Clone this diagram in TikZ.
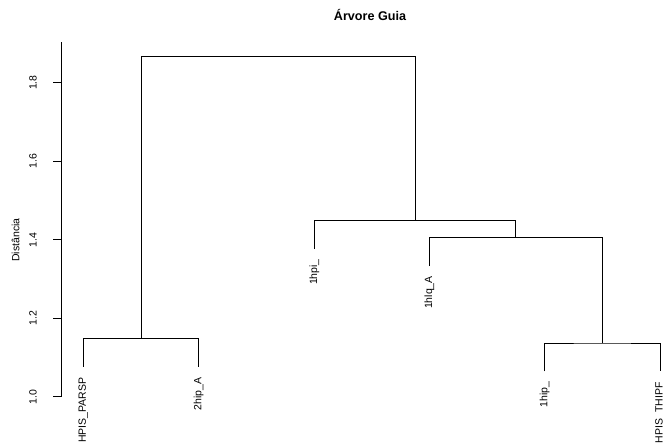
\documentclass[tikz,border=0pt]{standalone}
\usepackage{fontspec}
\setmainfont{Liberation Sans}
\begin{document}
\begin{tikzpicture}[x=1pt,y=-1pt,
  tree/.style={line width=0.8pt,draw=black},
  lbl/.style={font=\fontsize{10.5}{12}\selectfont,inner sep=0pt,rotate=90,anchor=east},
  ticklbl/.style={font=\fontsize{10.5}{12}\selectfont,inner sep=0pt,rotate=90},
  ]
\useasboundingbox (0,0) rectangle (663,447);
% title
\node[font=\fontsize{12.6}{14}\selectfont\bfseries] (title) at (370,15) {Árvore Guia};
% axis
\coordinate (axtop) at (61.3,42);
\coordinate (axbot) at (61.3,396.7);
\draw[tree] (axbot) -- (axtop);
\foreach \v/\t in {0/1.0,1/1.2,2/1.4,3/1.6,4/1.8}{
  \coordinate (tk\v) at (61.3,{396.7-\v*78.5});
  \draw[tree] (tk\v) -- ++(-8,0);
  \node[ticklbl] (tl\v) at (33,{396.7-\v*78.5}) {\t};
}
\node[ticklbl] (ylab) at (15.5,240) {Distância};
% merges
\coordinate (m1) at (141.3,338.3);
\coordinate (m4) at (602.3,343);
\coordinate (m3) at (515.8,237.7);
\coordinate (m2) at (415,220.7);
\coordinate (m0) at (278.2,56.7);
% leaves
\coordinate (l1) at (83.3,366.6);
\coordinate (l2) at (198.7,366.6);
\coordinate (l3) at (314.3,249);
\coordinate (l4) at (429.3,266);
\coordinate (l5) at (544.7,371.3);
\coordinate (l6) at (660,371.3);
\draw[tree] (l1) |- (m1) -| (l2);
\draw[tree] (l5) |- (m4) -| (l6);
\draw[tree] (l4) |- (m3) -| (m4);
\draw[tree] (l3) |- (m2) -| (m3);
\draw[tree] (m1) |- (m0) -| (m2);
% leaf labels
\node[lbl] (t1) at ([yshift=-11]l1) {HPIS\_PARSP};
\node[lbl] (t2) at ([yshift=-11]l2) {2hip\_A};
\node[lbl] (t3) at ([yshift=-10]l3) {1hpi\_};
\node[lbl] (t4) at ([yshift=-10]l4) {1hlq\_A};
\node[lbl] (t5) at ([yshift=-10]l5) {1hip\_};
\node[lbl] (t6) at ([yshift=-11]l6) {HPIS\_THIPF};
\end{tikzpicture}
\end{document}
